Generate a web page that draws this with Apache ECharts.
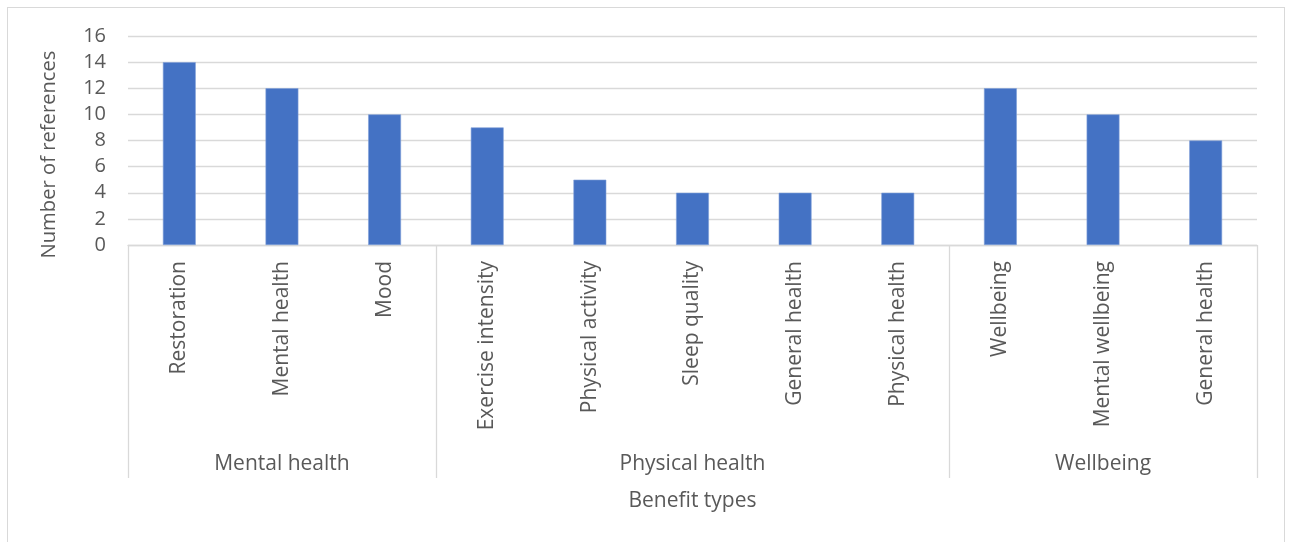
<!DOCTYPE html>
<html>
<head>
<meta charset="utf-8">
<script src="https://cdn.jsdelivr.net/npm/echarts@6/dist/echarts.min.js"></script>
<style>
  html, body { margin: 0; padding: 0; background: #fff; }
  #wrap { position: relative; width: 1290px; height: 542px; overflow: hidden; }
  #frame { position: absolute; left: 7px; top: 7px; width: 1278px; height: 560px; border: 1px solid #d9d9d9; box-sizing: border-box; }
  #chart { position: absolute; left: 0; top: 0; width: 1290px; height: 542px; }
</style>
</head>
<body>
<div id="wrap">
  <div id="frame"></div>
  <div id="chart"></div>
</div>
<script>
const categories = ['Restoration', 'Mental health', 'Mood', 'Exercise intensity', 'Physical activity', 'Sleep quality', 'General health', 'Physical health', 'Wellbeing', 'Mental wellbeing', 'General health'];
const values = [14, 12, 10, 9, 5, 4, 4, 4, 12, 10, 8];
const groupNames = ['Mental health', 'Physical health', 'Wellbeing'];
const groupSizes = [3, 5, 3];
const yTicks = { min: 0, max: 16, interval: 2 };

// build group boundary indices and centered group labels
const boundaries = [];
const groupAxisData = categories.map(() => '');
let start = 0;
groupSizes.forEach((n, g) => {
  boundaries.push(start);
  groupAxisData[start + Math.floor(n / 2)] = groupNames[g];
  start += n;
});

const textColor = '#595959';
const lineColor = '#d9d9d9';
const font = 'Open Sans';

const chart = echarts.init(document.getElementById('chart'), null, { renderer: 'canvas' });
chart.setOption({
  animation: false,
  backgroundColor: 'transparent',
  grid: { left: 128, right: 33, top: 36, bottom: 297, containLabel: false },
  xAxis: [
    {
      type: 'category',
      data: categories,
      position: 'bottom',
      axisLine: { show: true, lineStyle: { color: lineColor, width: 1.3 } },
      axisTick: {
        show: true,
        length: 233,
        alignWithLabel: false,
        interval: function (i) { return boundaries.indexOf(i) >= 0; },
        lineStyle: { color: lineColor, width: 1.3 }
      },
      axisLabel: { interval: 0, rotate: 90, margin: 16, fontSize: 21, color: textColor, fontFamily: font },
      splitLine: { show: false }
    },
    {
      type: 'category',
      data: groupAxisData,
      position: 'bottom',
      offset: 201,
      axisLine: { show: false },
      axisTick: { show: false },
      axisLabel: { interval: 0, margin: 8, fontSize: 21, color: textColor, fontFamily: font },
      splitLine: { show: false },
      name: 'Benefit types',
      nameLocation: 'middle',
      nameGap: 45,
      nameTextStyle: { fontSize: 21, color: textColor, fontFamily: font }
    }
  ],
  yAxis: {
    type: 'value',
    min: yTicks.min,
    max: yTicks.max,
    interval: yTicks.interval,
    axisLine: { show: false },
    axisTick: { show: false },
    axisLabel: { margin: 22, fontSize: 20, color: textColor, fontFamily: font },
    splitLine: { show: true, lineStyle: { color: lineColor, width: 1.3 } },
    name: 'Number of references',
    nameLocation: 'middle',
    nameGap: 69,
    nameTextStyle: { fontSize: 20.2, color: textColor, fontFamily: font, padding: [0, 28, 0, 0] }
  },
  series: [{
    type: 'bar',
    xAxisIndex: 0,
    data: values,
    barWidth: '32%',
    itemStyle: { color: '#4472C4', borderColor: '#7f9fd8', borderWidth: 0.6 }
  }]
});
</script>
</body>
</html>
